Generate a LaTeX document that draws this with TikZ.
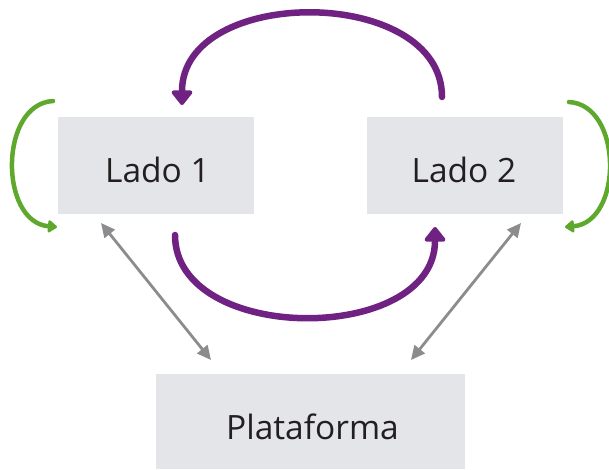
\documentclass[tikz,border=0pt]{standalone}
\usepackage{fontspec}
\setmainfont{Open Sans}
\usetikzlibrary{arrows.meta}
\definecolor{boxgray}{HTML}{E4E5E9}
\definecolor{purp}{HTML}{6F2282}
\definecolor{grn}{HTML}{5FA82E}
\definecolor{arrgray}{HTML}{8C8C8E}
\definecolor{txt}{HTML}{231F20}
\tikzset{
  boxnode/.style={fill=boxgray, draw=none, inner sep=0pt},
  lbl/.style={anchor=base, text=txt, font=\fontsize{33.5}{38}\selectfont, inner sep=0pt},
  purparrow/.style={draw=purp, line width=6.5pt, line cap=round, -{Triangle[width=24pt,length=16pt,round]}},
  grnarrow/.style={draw=grn, line width=4.5pt, line cap=round, -{Triangle[width=14pt,length=10pt,round]}},
  grayarrow/.style={draw=arrgray, line width=2.8pt, {Triangle[width=13pt,length=14pt]}-{Triangle[width=13pt,length=14pt]}},
}
\begin{document}
\begin{tikzpicture}[x=1pt,y=-1pt]
\useasboundingbox (0,0) rectangle (609,469);
\node[boxnode, minimum width=196pt, minimum height=97pt] (b1) at (156,165.5) {};
\node[boxnode, minimum width=196pt, minimum height=97pt] (b2) at (465,165.5) {};
\node[boxnode, minimum width=309pt, minimum height=95pt] (pl) at (310.5,421.5) {};
\node[lbl] (t1) at (157.5,182) {Lado 1};
\node[lbl] (t2) at (464,182) {Lado 2};
\node[lbl] (t3) at (312.5,439) {Plataforma};
% coordinates for arrow ends
\coordinate (g1s) at (53,101);
\coordinate (g1e) at (57,227);
\coordinate (g2s) at (569,102);
\coordinate (g2e) at (565,227);
\coordinate (p1s) at (442,97);
\coordinate (p1e) at (182,105);
\coordinate (p2s) at (175,235);
\coordinate (p2e) at (435,227);
\coordinate (a1) at (101,223);
\coordinate (a2) at (211,360);
\coordinate (a3) at (521,223);
\coordinate (a4) at (411,360);
\draw[grnarrow] (g1s) .. controls (-1,104) and (-1,222) .. (g1e);
\draw[grnarrow] (g2s) .. controls (623,105) and (623,222) .. (g2e);
\draw[purparrow] (p1s) .. controls (442,-15) and (182,-15) .. (p1e);
\draw[purparrow] (p2s) .. controls (175,345) and (435,345) .. (p2e);
\draw[grayarrow] (a1) -- (a2);
\draw[grayarrow] (a3) -- (a4);
\end{tikzpicture}
\end{document}
